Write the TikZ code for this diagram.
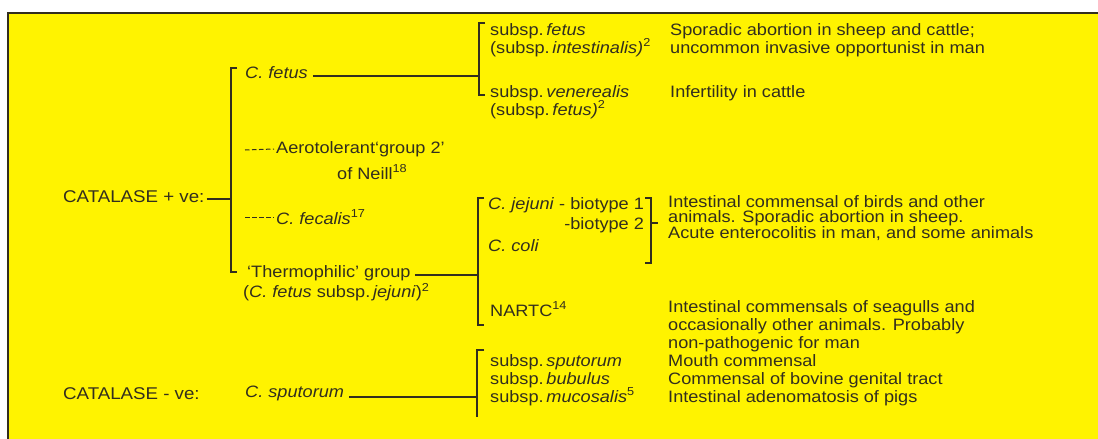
\documentclass[tikz,border=0pt]{standalone}
\usepackage{fontspec}
\setmainfont[FakeStretch=1.1]{Liberation Sans}
\definecolor{chartyellow}{RGB}{255,243,0}
\definecolor{chartink}{RGB}{50,46,30}
\usetikzlibrary{positioning}

\begin{document}
\begin{tikzpicture}[x=1pt, y=-1pt, font=\fontsize{16.5}{18}\selectfont,
    txt/.style={inner sep=0pt, anchor=west, align=left, text=chartink},
    head/.style={txt, font=\fontsize{17}{20}\selectfont},
    rule/.style={draw=chartink, line width=1.3pt},
    leader/.style={draw=chartink, line width=1pt, dash pattern=on 4.5pt off 2.5pt}]
    \useasboundingbox (0,0) rectangle (1098,439);

    % Yellow panel
    \fill[white] (0,0) rectangle (1098,439);
    \fill[chartyellow] (8,13) rectangle (1098,439);
    \draw[rule] (8,439) -- (8,13) -- (1098,13);

    % Left column
    \node[head] (catpos) at (63,197) {CATALASE + ve:};
    \node[head] (catneg) at (63,394) {CATALASE - ve:};

    % Second column
    \node[txt] (cfetus) at (245,73) {\textit{C. fetus}};
    \node[txt] (aero) at (276,149) {Aerotolerant`group 2'};
    \node[txt] (neill) at (337,172) {of Neill\textsuperscript{18}};
    \node[txt] (fecalis) at (276,217) {\textit{C. fecalis}\textsuperscript{17}};
    \node[txt] (thermo) at (247,273) {`Thermophilic' group};
    \node[txt] (thermosub) at (243,292) {(\textit{C. fetus} subsp.\,\textit{jejuni})\textsuperscript{2}};
    \node[txt] (csput) at (245,393) {\textit{C. sputorum}};

    % Third column
    \node[txt] (sfetus) at (490,40) {subsp.\,\textit{fetus}\\(subsp.\,\textit{intestinalis)}\textsuperscript{2}};
    \node[txt] (svener) at (490,102) {subsp.\,\textit{venerealis}\\(subsp.\,\textit{fetus)}\textsuperscript{2}};
    \node[txt] (bio1) at (488,205) {\textit{C. jejuni} - biotype 1};
    \node[txt, anchor=east] (bio2) at (bio1.east |- 0,225) {-biotype 2};
    \node[txt] (ccoli) at (488,246) {\textit{C. coli}};
    \node[txt] (nartc) at (490,309) {NARTC\textsuperscript{14}};
    \node[txt] (ssput) at (490,380) {subsp.\,\textit{sputorum}\\subsp.\,\textit{bubulus}\\subsp.\,\textit{mucosalis}\textsuperscript{5}};

    % Descriptions
    \node[txt] (dfetus) at (670,40) {Sporadic abortion in sheep and cattle;\\uncommon invasive opportunist in man};
    \node[txt] (dvener) at (670,93) {Infertility in cattle};
    \node[txt, font=\fontsize{16.5}{15.5}\selectfont] (djejuni) at (668,218)
      {Intestinal commensal of birds and other\\animals. Sporadic abortion in sheep.\\Acute enterocolitis in man, and some animals};
    \node[txt] (dnartc) at (668,326) {Intestinal commensals of seagulls and\\occasionally other animals. Probably\\non-pathogenic for man};
    \node[txt] (dsput) at (668,380) {Mouth commensal\\Commensal of bovine genital tract\\Intestinal adenomatosis of pigs};

    % Brackets
    \draw[rule] (237,68) -- (231,68) -- (231,272) -- (237,272);
    \draw[rule] (485,23) -- (479,23) -- (479,95) -- (485,95);
    \draw[rule] (484,198) -- (478,198) -- (478,325) -- (484,325);
    \draw[rule] (645,198) -- (651,198) -- (651,263) -- (645,263);
    \draw[rule] (651,223) -- (658,223);
    \draw[rule] (484,350) -- (477,350) -- (477,417);
    \coordinate (mainbr) at (231,199);
    \coordinate (fetusbr) at (479,76);
    \coordinate (thermobr) at (478,275);
    \coordinate (sputbr) at (477,397);
    \coordinate (aerodash) at (245,150);
    \coordinate (fecdash) at (245,217);

    % Connectors
    \draw[rule] ([xshift=2pt,yshift=-2pt]catpos.east) -- (mainbr);
    \draw[rule] ([xshift=5pt,yshift=-3pt]cfetus.east) -- (fetusbr);
    \draw[rule] ([xshift=4pt,yshift=-2pt]thermo.east) -- (thermobr);
    \draw[rule] ([xshift=5pt,yshift=-4pt]csput.east) -- (sputbr);
    \draw[leader] (aerodash) -- ([xshift=-2pt]aero.west);
    \draw[leader] (fecdash) -- ([xshift=-2pt]fecalis.west);
\end{tikzpicture}
\end{document}
